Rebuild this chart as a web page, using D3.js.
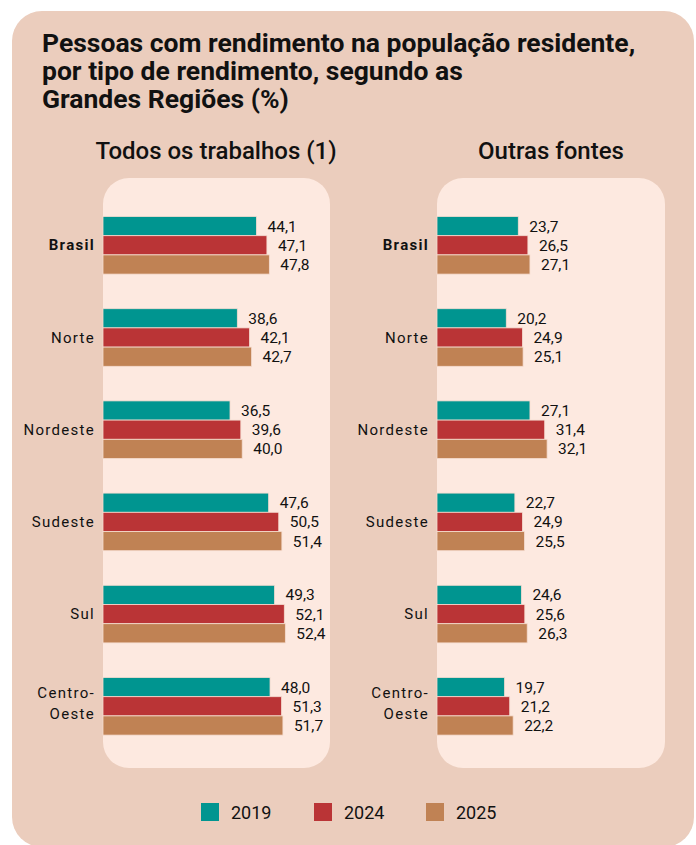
<!DOCTYPE html>
<html><head><meta charset="utf-8">
<script src="https://cdn.jsdelivr.net/npm/d3@7"></script>
<style>html,body{margin:0;padding:0;background:#fff;}svg{display:block;}</style>
</head><body>
<script>
const regions = ["Brasil","Norte","Nordeste","Sudeste","Sul","Centro-Oeste"];
const years = ["2019","2024","2025"];
const trabalhos2019 = [44.1,38.6,36.5,47.6,49.3,48.0];
const trabalhos2024 = [47.1,42.1,39.6,50.5,52.1,51.3];
const trabalhos2025 = [47.8,42.7,40.0,51.4,52.4,51.7];
const outras2019 = [23.7,20.2,27.1,22.7,24.6,19.7];
const outras2024 = [26.5,24.9,31.4,24.9,25.6,21.2];
const outras2025 = [27.1,25.1,32.1,25.5,26.3,22.2];
const titleLines = ["Pessoas com rendimento na população residente,","por tipo de rendimento, segundo as","Grandes Regiões (%)"];
const panelTitles = ["Todos os trabalhos (1)","Outras fontes"];
const colors = ["#009590","#BA3436","#C08254"];

const W=696,H=845;
const svg=d3.select("body").append("svg").attr("width",W).attr("height",H);
const font="Roboto, 'Open Sans', sans-serif";

svg.append("rect").attr("x",12).attr("y",11).attr("width",682).attr("height",836).attr("rx",30).attr("fill","#EBCDBD");

svg.append("text").attr("x",42).attr("y",52).attr("font-family",font).attr("font-weight",700)
  .attr("font-size",26.5).attr("fill","#111")
  .selectAll("tspan").data(titleLines).join("tspan").attr("x",42).attr("dy",(d,i)=>i?28:0).text(d=>d);

const fmt = v => d3.format(".1f")(v).replace(".",",");

const panels=[
  {x:103,w:227,title:panelTitles[0],cx:216,labelX:95,data:[trabalhos2019,trabalhos2024,trabalhos2025],scaleW:348},
  {x:437,w:228,title:panelTitles[1],cx:551,labelX:429,data:[outras2019,outras2024,outras2025],scaleW:343}
];
const yGroup=d3.scalePoint().domain(regions).range([216.5,677.5]);
const yBar=d3.scaleBand().domain(years).range([0,57.6]).padding(0);

panels.forEach(p=>{
  const g=svg.append("g");
  g.append("text").attr("x",p.cx).attr("y",159).attr("text-anchor","middle").attr("font-family",font)
    .attr("font-weight",500).attr("font-size",24).attr("fill","#111").text(p.title);
  g.append("rect").attr("x",p.x).attr("y",178).attr("width",p.w).attr("height",590).attr("rx",26).attr("fill","#FDE9E0");
  const x=d3.scaleLinear().domain([0,100]).range([p.x,p.x+p.scaleW]);
  regions.forEach((r,ri)=>{
    const gy=yGroup(r);
    years.forEach((yr,yi)=>{
      const v=p.data[yi][ri];
      g.append("rect").attr("x",x(0)).attr("y",gy+yBar(yr)).attr("width",x(v)-x(0)).attr("height",yBar.bandwidth())
        .attr("fill",colors[yi]).attr("stroke","#F6DCD0").attr("stroke-width",0.8);
      g.append("text").attr("x",x(v)+11).attr("y",gy+yBar(yr)+yBar.bandwidth()/2+5.5)
        .attr("font-family",font).attr("font-size",15.5).attr("fill","#111").text(fmt(v));
    });
    const cy=gy+yBar.bandwidth()*1.5;
    const lines=r==="Centro-Oeste"?["Centro-","Oeste"]:[r];
    const t=g.append("text").attr("text-anchor","end").attr("font-family",font).attr("font-size",15)
      .attr("letter-spacing",1.3).attr("font-weight",r==="Brasil"?700:400).attr("fill","#111");
    lines.forEach((l,li)=>{
      t.append("tspan").attr("x",p.labelX).attr("y",cy+5+(lines.length===2?(li?8:-13):0)).text(l);
    });
  });
});

const legX=[201,314,426];
const leg=svg.append("g");
years.forEach((yr,i)=>{
  leg.append("rect").attr("x",legX[i]).attr("y",803).attr("width",18).attr("height",18).attr("fill",colors[i]);
  leg.append("text").attr("x",legX[i]+30).attr("y",819).attr("font-family",font).attr("font-size",18).attr("fill","#111").text(yr);
});
</script>
</body></html>
